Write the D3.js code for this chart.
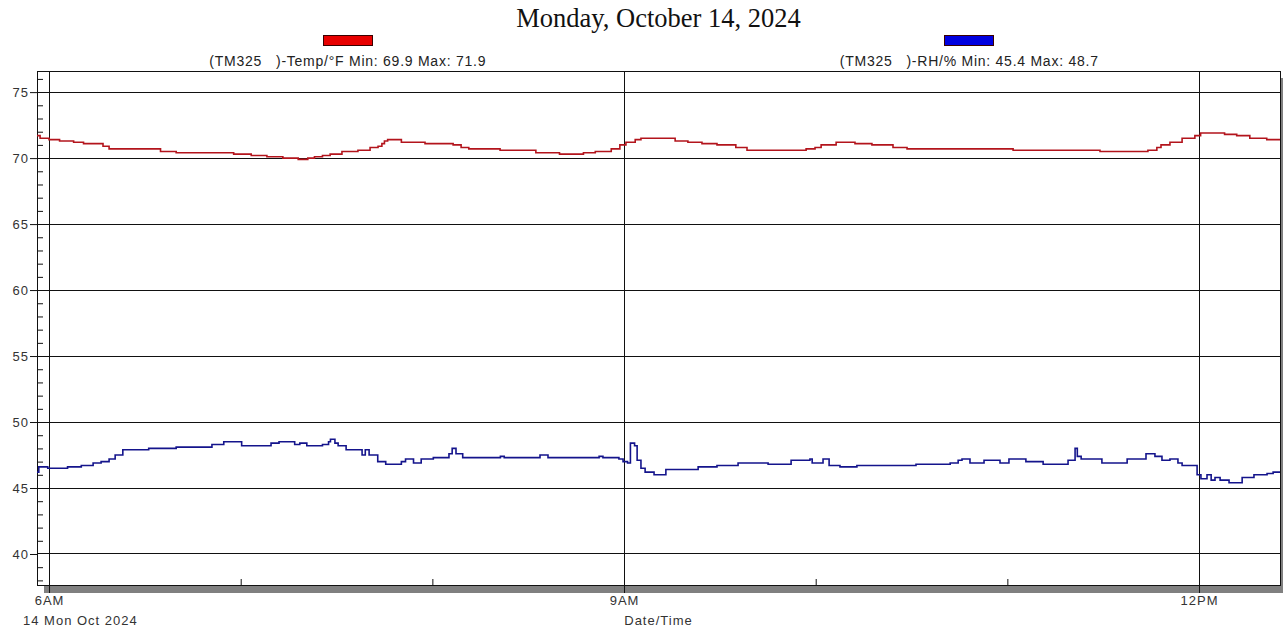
<!DOCTYPE html>
<html><head><meta charset="utf-8">
<script src="https://cdn.jsdelivr.net/npm/d3@7/dist/d3.min.js"></script>
<style>
html,body{margin:0;padding:0;background:#fff;}
svg{display:block;}
text{font-family:"Liberation Sans",Arial,sans-serif;}
</style></head><body>
<svg id="chart" width="1283" height="631"></svg>
<script>
const chartTitle = "Monday, October 14, 2024";
const seriesNames = ["(TM325   )-Temp/°F Min: 69.9 Max: 71.9", "(TM325   )-RH/% Min: 45.4 Max: 48.7"];
const seriesColors = ["#b3141c", "#14148c"];
const legendColors = ["#e80000", "#0000e0"];
const yTicks = [40, 45, 50, 55, 60, 65, 70, 75];
const xMajorTicks = ["06:00:00", "09:00:00", "12:00:00"];
const xMajorLabels = ["6AM", "9AM", "12PM"];
const xMinorTicks = ["07:00:00", "08:00:00", "10:00:00", "11:00:00"];
const dateLabel = "14 Mon Oct 2024";
const xTitle = "Date/Time";
const xDomain = ["05:56:14", "12:25:21"];
const yDomain = [37.65, 76.6];

const tempTimes = ["05:56:12","05:57:12","06:00:00","06:03:18","06:07:42","06:10:48","06:16:54","06:18:48","06:34:54","06:39:48","06:57:48","07:03:18","07:08:12","07:13:12","07:18:00","07:21:00","07:23:06","07:25:36","07:28:00","07:31:42","07:36:42","07:40:30","07:43:00","07:44:12","07:45:00","07:46:00","07:50:18","07:57:42","08:06:30","08:09:00","08:11:24","08:21:12","08:32:24","08:39:48","08:47:18","08:51:00","08:56:00","08:58:42","09:00:36","09:03:30","09:05:18","09:16:00","09:20:00","09:24:24","09:29:06","09:35:00","09:38:30","09:57:00","09:59:48","10:01:42","10:06:24","10:12:18","10:17:36","10:24:12","10:28:36","11:01:48","11:29:00","11:44:00","11:46:48","11:48:06","11:50:54","11:54:42","11:58:42","12:00:30","12:08:00","12:11:48","12:15:54","12:21:12","12:25:24"];
const tempValues = [71.7,71.5,71.4,71.3,71.2,71.1,70.9,70.7,70.5,70.4,70.3,70.2,70.1,70.0,69.9,70.0,70.1,70.2,70.3,70.5,70.6,70.8,70.9,71.1,71.3,71.4,71.2,71.1,71.0,70.8,70.7,70.6,70.4,70.3,70.4,70.5,70.7,71.0,71.2,71.4,71.5,71.3,71.2,71.1,71.0,70.8,70.6,70.7,70.8,71.0,71.2,71.1,71.0,70.8,70.7,70.6,70.5,70.6,70.8,71.0,71.2,71.5,71.7,71.9,71.8,71.7,71.5,71.4,71.4];

const rhTimes = ["05:56:12","05:56:48","05:59:36","06:05:48","06:10:06","06:13:48","06:16:18","06:18:48","06:20:42","06:23:06","06:31:12","06:39:48","06:51:00","06:54:42","07:00:18","07:09:30","07:12:00","07:16:54","07:18:30","07:20:42","07:25:36","07:27:30","07:28:06","07:29:30","07:30:30","07:33:00","07:38:00","07:39:00","07:40:12","07:42:54","07:45:24","07:50:18","07:51:36","07:54:06","07:56:30","08:00:18","08:05:12","08:06:12","08:07:24","08:09:30","08:21:18","08:22:30","08:33:42","08:36:12","08:52:12","08:53:24","08:58:24","08:59:42","09:01:06","09:02:00","09:03:18","09:04:06","09:05:18","09:06:36","09:09:24","09:13:06","09:23:12","09:29:06","09:35:42","09:45:06","09:52:18","09:58:12","09:58:54","10:02:18","10:04:12","10:07:36","10:12:54","10:31:24","10:42:06","10:44:36","10:45:48","10:48:18","10:52:42","10:57:42","11:00:30","11:05:48","11:11:12","11:19:00","11:21:12","11:21:54","11:23:06","11:29:36","11:37:30","11:43:24","11:46:12","11:48:24","11:50:54","11:53:24","11:54:42","11:59:24","12:00:36","12:02:30","12:03:48","12:05:00","12:06:36","12:09:24","12:13:30","12:17:12","12:21:18","12:23:12","12:25:24"];
const rhValues = [46.2,46.6,46.5,46.6,46.7,46.9,47.0,47.2,47.5,47.9,48.0,48.1,48.3,48.5,48.2,48.4,48.5,48.3,48.4,48.2,48.3,48.5,48.7,48.4,48.2,47.9,47.5,47.9,47.5,47.0,46.8,47.0,47.2,46.9,47.2,47.3,47.6,48.0,47.6,47.3,47.4,47.3,47.5,47.3,47.4,47.3,47.2,47.0,46.9,48.4,48.2,47.1,46.5,46.2,46.0,46.4,46.6,46.7,46.9,46.8,47.1,47.2,46.9,47.2,46.7,46.6,46.7,46.8,46.9,47.1,47.2,46.9,47.1,46.9,47.2,47.0,46.8,47.1,48.0,47.4,47.2,46.9,47.2,47.6,47.4,47.1,47.2,46.9,46.7,46.0,45.7,46.0,45.6,45.8,45.6,45.4,45.8,46.0,46.1,46.2,46.2];

const parse = d3.timeParse("%Y-%m-%d %H:%M:%S");
const T = s => parse("2024-10-14 " + s);

const L = 37, R = 1280, TOP = 71, BOT = 585;
const svg = d3.select("#chart");
const x = d3.scaleTime().domain(xDomain.map(T)).range([L, R]);
const y = d3.scaleLinear().domain(yDomain).range([BOT, TOP]);
const cr = v => Math.round(v) + 0.5;
const labelFont = sel => sel.style("font-size", "13px").style("letter-spacing", "1px").attr("fill", "#333")
  .style("font-family", '"Liberation Sans",Arial,sans-serif');

// title
svg.append("text").attr("x", (L + R) / 2).attr("y", 27).attr("text-anchor", "middle")
  .style("font-family", '"Liberation Serif","Times New Roman",serif').style("font-size", "26.5px").attr("fill", "#111")
  .text(chartTitle);

// legend
const legX = [L + (R - L) * 0.25, L + (R - L) * 0.75];
seriesNames.forEach((n, i) => {
  svg.append("rect").attr("x", Math.round(legX[i]) - 24.5).attr("y", 35.5).attr("width", 49).attr("height", 10)
    .attr("fill", legendColors[i]).attr("stroke", "#3a0000").attr("stroke-width", 1);
  svg.append("text").attr("x", legX[i]).attr("y", 66).attr("text-anchor", "middle")
    .style("font-size", "14px").style("letter-spacing", "0.75px").style("white-space", "pre").attr("xml:space", "preserve").attr("fill", "#222")
    .text(n);
});

// shadow
svg.append("rect").attr("x", L + 7).attr("y", TOP + 7).attr("width", R - L + 1).attr("height", BOT - TOP + 1).attr("fill", "#808080");
// plot bg
svg.append("rect").attr("x", L + 0.5).attr("y", TOP + 0.5).attr("width", R - L).attr("height", BOT - TOP)
  .attr("fill", "#fff").attr("stroke", "#111").attr("stroke-width", 1);

// grid
const g = svg.append("g").attr("stroke", "#111").attr("stroke-width", 1);
yTicks.forEach(t => g.append("line").attr("x1", L).attr("x2", R).attr("y1", cr(y(t) - 0.5)).attr("y2", cr(y(t) - 0.5)));
xMajorTicks.forEach(t => g.append("line").attr("y1", TOP).attr("y2", BOT).attr("x1", cr(x(T(t)) - 0.5)).attr("x2", cr(x(T(t)) - 0.5)));

// y axis labels with outward major ticks
const yAxis = d3.axisLeft(y).tickValues(yTicks).tickSize(7).tickPadding(1).tickFormat(d3.format("d"));
const ya = svg.append("g").attr("transform", `translate(${L},0)`).call(yAxis);
ya.select(".domain").remove();
ya.selectAll("text").call(labelFont);
ya.selectAll("line").attr("stroke", "#111");
// y minor ticks inward
const yMinor = d3.range(38, 77).filter(v => v % 5 !== 0);
const ym = svg.append("g").attr("transform", `translate(${L},0)`).call(d3.axisRight(y).tickValues(yMinor).tickSize(6).tickFormat(""));
ym.select(".domain").remove();
ym.selectAll("line").attr("stroke", "#111");

// x axis
const xAxis = d3.axisBottom(x).tickValues(xMajorTicks.map(T)).tickSize(8).tickPadding(3)
  .tickFormat((d, i) => xMajorLabels[i]);
const xa = svg.append("g").attr("transform", `translate(0,${BOT})`).call(xAxis);
xa.select(".domain").remove();
xa.selectAll("text").call(labelFont);
xa.selectAll("line").attr("stroke", "#111");
const xm = svg.append("g").attr("transform", `translate(0,${BOT})`).call(d3.axisTop(x).tickValues(xMinorTicks.map(T)).tickSize(6).tickFormat(""));
xm.select(".domain").remove();
xm.selectAll("line").attr("stroke", "#111");

svg.append("text").attr("x", 23).attr("y", 625).call(labelFont).text(dateLabel);
svg.append("text").attr("x", (L + R) / 2).attr("y", 625).attr("text-anchor", "middle").call(labelFont).text(xTitle);

// series
const line = d3.line().x(d => x(d[0])).y(d => y(d[1])).curve(d3.curveStepAfter);
const tempData = tempTimes.map((t, i) => [T(t), tempValues[i]]);
const rhData = rhTimes.map((t, i) => [T(t), rhValues[i]]);
svg.append("clipPath").attr("id", "clip").append("rect").attr("x", L).attr("y", TOP).attr("width", R - L).attr("height", BOT - TOP);
[tempData, rhData].forEach((d, i) => {
  svg.append("path").datum(d).attr("d", line).attr("fill", "none").attr("stroke", seriesColors[i])
    .attr("stroke-width", 1.6).attr("clip-path", "url(#clip)");
});
</script>
</body></html>
